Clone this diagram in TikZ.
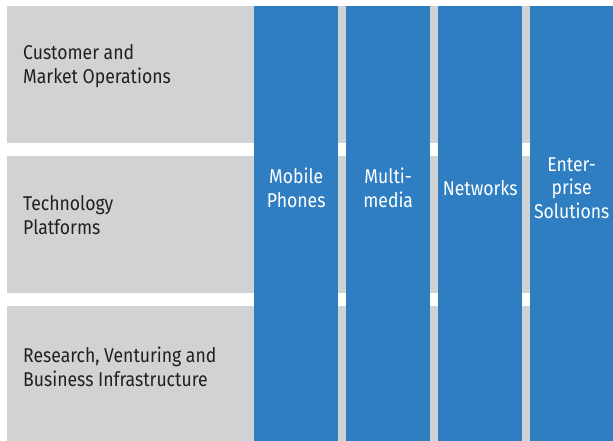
\documentclass[tikz,border=0pt]{standalone}
\usepackage{fontspec}
\setmainfont[FakeStretch=0.88]{Fira Sans}
\definecolor{bandgray}{HTML}{D1D2D4}
\definecolor{unitblue}{HTML}{2F7EC2}
\definecolor{labeltext}{HTML}{231F20}
\begin{document}
\begin{tikzpicture}[x=1pt,y=-1pt,
  band/.style={fill=bandgray,draw=none,anchor=north west,inner sep=0pt,
    minimum width=606pt},
  unit/.style={fill=unitblue,draw=none,anchor=north west,inner sep=0pt,
    minimum height=435pt},
  bandlabel/.style={anchor=west,align=left,inner sep=0pt,text=labeltext,
    font=\fontsize{20}{23.5}\selectfont},
  unitlabel/.style={align=center,inner sep=0pt,text=white,
    font=\fontsize{20}{23.5}\selectfont}]
  % page area
  \useasboundingbox[fill=white] (0,0) rectangle (613,441);
  % horizontal functions
  \node[band,minimum height=136.7pt] (ops)   at (7,6) {};
  \node[band,minimum height=137pt]   (tech)  at (7,155.7) {};
  \node[band,minimum height=135.3pt] (infra) at (7,305.7) {};
  % vertical business groups
  \node[unit,minimum width=84pt] (mp)  at (254,6) {};
  \node[unit,minimum width=84pt] (mm)  at (346,6) {};
  \node[unit,minimum width=84pt] (nw)  at (438,6) {};
  \node[unit,minimum width=83pt] (es)  at (530,6) {};
  % labels of the functions
  \node[bandlabel] (opsl)   at (23,66)  {Customer and\\Market Operations};
  \node[bandlabel] (techl)  at (23,215) {Technology\\Platforms};
  \node[bandlabel] (infral) at (23,367) {Research, Venturing and\\Business Infrastructure};
  % labels of the groups
  \node[unitlabel] (mpl) at (mp.center |- 0,188) {Mobile\\Phones};
  \node[unitlabel] (mml) at (mm.center |- 0,188) {Multi-\\media};
  \node[unitlabel] (nwl) at (nw.center |- 0,188) {Networks};
  \node[unitlabel] (esl) at (es.center |- 0,188) {Enter-\\prise\\Solutions};
\end{tikzpicture}
\end{document}
